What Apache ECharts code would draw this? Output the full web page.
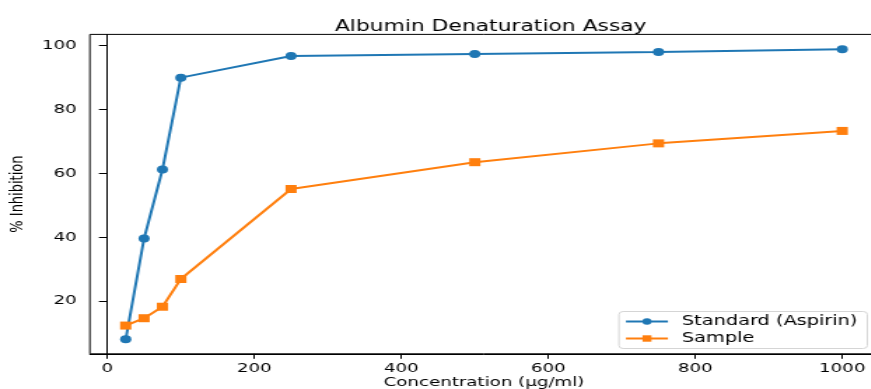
<!DOCTYPE html>
<html>
<head>
<meta charset="utf-8">
<script src="https://cdn.jsdelivr.net/npm/echarts@6/dist/echarts.min.js"></script>
<style>
  html, body { margin: 0; padding: 0; background: #fff; overflow: hidden; width: 871px; height: 389px; }
  /* the reference is stretched sideways, so draw narrow and stretch it */
  #chart { width: 630px; height: 389px; transform: scaleX(1.4); transform-origin: 0 0; }
</style>
</head>
<body>
<div id="chart"></div>
<script>
const concentrations = [25, 50, 75, 100, 250, 500, 750, 1000];
const standardValues = [8, 39.6, 61.2, 90, 96.8, 97.4, 98, 98.9];
const sampleValues = [12.3, 14.6, 18.2, 26.9, 55.1, 63.5, 69.4, 73.3];
const xTicks = [0, 200, 400, 600, 800, 1000];
const yTicks = [20, 40, 60, 80, 100];

const font = "DejaVu Sans";
const chart = echarts.init(document.getElementById("chart"));

const option = {
  animation: false,
  title: {
    text: "Albumin Denaturation Assay",
    left: 345.5,
    top: 14,
    textAlign: "center",
    textStyle: { fontFamily: font, fontSize: 15.6, fontWeight: "normal", color: "#000" },
  },
  legend: {
    orient: "vertical",
    right: 10.5,
    bottom: 40.5,
    padding: [3, 7, 3, 4],
    itemGap: 3,
    itemWidth: 30,
    itemHeight: 8,
    backgroundColor: "#fff",
    borderColor: "#d5d5d5",
    borderWidth: 1,
    borderRadius: 3,
    textStyle: { fontFamily: font, fontSize: 13.8, color: "#000", padding: [0, 0, 0, 5] },
    data: ["Standard (Aspirin)", "Sample"],
  },
  grid: {
    left: 64.2,
    right: 2.8,
    top: 34.4,
    bottom: 35.2,
    containLabel: false,
    outerBoundsMode: "none",
    show: true,
    borderColor: "#000",
    borderWidth: 1,
  },
  xAxis: {
    type: "value",
    min: -23.75,
    max: 1048.75,
    name: "Concentration (µg/ml)",
    nameLocation: "middle",
    nameGap: 22,
    nameMoveOverlap: false,
    nameTextStyle: { fontFamily: font, fontSize: 13, color: "#000", verticalAlign: "top" },
    splitLine: { show: false },
    axisLine: { show: true, lineStyle: { color: "#000", width: 1 } },
    axisTick: { show: true, length: 5, customValues: xTicks, lineStyle: { color: "#000" } },
    axisLabel: {
      customValues: xTicks,
      formatter: (v) => String(v),
      margin: 8,
      fontFamily: font,
      fontSize: 13,
      color: "#000",
    },
  },
  yAxis: {
    type: "value",
    min: 3.45,
    max: 103.55,
    name: "% Inhibition",
    nameLocation: "middle",
    nameGap: 45,
    nameMoveOverlap: false,
    nameTextStyle: { fontFamily: font, fontSize: 13, color: "#000" },
    splitLine: { show: false },
    axisLine: { show: true, lineStyle: { color: "#000", width: 1 } },
    axisTick: { show: true, length: 6, customValues: yTicks, lineStyle: { color: "#000" } },
    axisLabel: {
      customValues: yTicks,
      formatter: (v) => String(v),
      margin: 9.5,
      fontFamily: font,
      fontSize: 13,
      color: "#000",
    },
  },
  series: [
    {
      name: "Standard (Aspirin)",
      type: "line",
      data: concentrations.map((c, i) => [c, standardValues[i]]),
      symbol: "circle",
      symbolSize: 8,
      lineStyle: { color: "#1f77b4", width: 2 },
      itemStyle: { color: "#1f77b4" },
    },
    {
      name: "Sample",
      type: "line",
      data: concentrations.map((c, i) => [c, sampleValues[i]]),
      symbol: "rect",
      symbolSize: 8,
      lineStyle: { color: "#ff7f0e", width: 2 },
      itemStyle: { color: "#ff7f0e" },
    },
  ],
};

chart.setOption(option);
</script>
</body>
</html>
